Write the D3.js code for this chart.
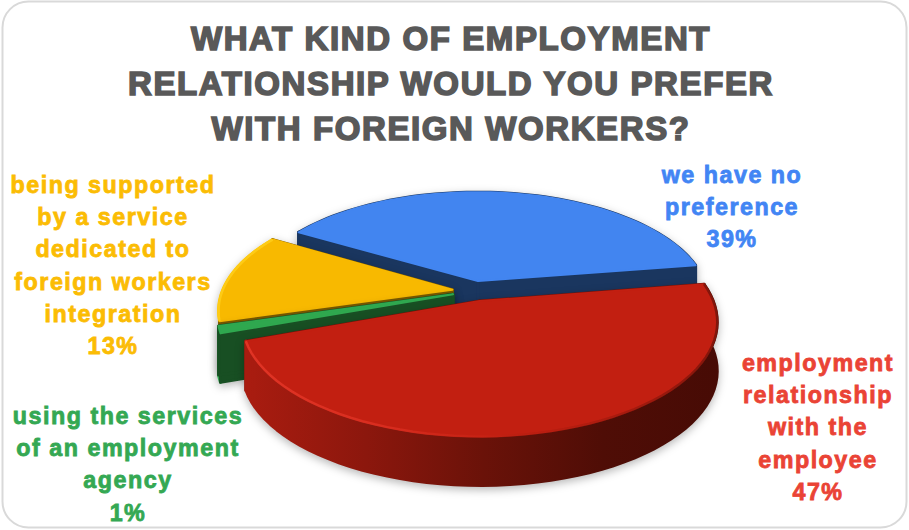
<!DOCTYPE html>
<html><head><meta charset="utf-8">
<script src="https://cdnjs.cloudflare.com/ajax/libs/d3/7.8.5/d3.min.js"></script>
<style>html,body{margin:0;padding:0;background:#fff}svg{display:block}text{font-family:"Liberation Sans",Arial,sans-serif;font-weight:700}</style>
</head><body><svg id="c" width="909" height="530"></svg>
<script>
const categories=["employment relationship with the employee","using the services of an employment agency","being supported by a service dedicated to foreign workers integration","we have no preference"];
const values=[47,1,13,39];
const titleLines=["WHAT KIND OF EMPLOYMENT","RELATIONSHIP WOULD YOU PREFER","WITH FOREIGN WORKERS?"];
const labelLines=[["employment","relationship","with the","employee","47%"],["using the services","of an employment","agency","1%"],["being supported","by a service","dedicated to","foreign workers","integration","13%"],["we have no","preference","39%"]];
const labelX=[818,128,113,732], labelY=[371,424,193,183];
const topColors=["#c21f11","#2fa84f","#f8b900","#4285f0"];
const faceColors=["#6d1208","#184f23","#7a5a00","#1a365f"];
const labelColors=["#ea4335","#34a853","#fbbc04","#4285f4"];
const drawOrder=[3,2,1,0];

const svg=d3.select("#c"),W=909,H=530;
svg.append("rect").attr("x",2.5).attr("y",1.5).attr("width",W-5).attr("height",H-4).attr("rx",26)
  .attr("fill","#fff").attr("stroke","#d9d9d9").attr("stroke-width",2);

const cx=474,cy=291,R=230,Ry=107.7,persp=0.175,depth=49,explode=0.095;
const xs=d3.scaleLinear().domain([-1,1]).range([cx-R,cx+R]);
const ys=d3.scaleLinear().domain([-1,1]).range([cy-Ry,cy+Ry]);
const proj=(wx,wy,z)=>{const s=1/(1-persp*wy);return [xs(wx*s),ys(wy*s)+z*depth];};
const pie=d3.pie().sort(null).startAngle(81*Math.PI/180).endAngle((81+360)*Math.PI/180);
const arcs=pie(values);
const line=d3.line();

const defs=svg.append("defs");
function grad(id,stops,x1,x2){const g=defs.append("linearGradient").attr("id",id).attr("gradientUnits","userSpaceOnUse").attr("x1",x1).attr("x2",x2).attr("y1",0).attr("y2",0);
  stops.forEach(s=>g.append("stop").attr("offset",s[0]).attr("stop-color",s[1]).attr("stop-opacity",s[2]===undefined?1:s[2]));return `url(#${id})`;}
const rimFills=[grad("rimR",[[0,"#a91c10"],[.25,"#8c170d"],[.5,"#6a1209"],[.75,"#4f0d06"],[1,"#470b05"]],247,721),"#2fa84f","#ffc800","#1a365f"];
const bevel=[grad("bevR",[[0,"#e8392a"],[.3,"#de3022"],[.5,"#cc2618",.6],[.62,"#a01a0e",.3],[1,"#5a0f07",.8]],247,721),"none","#ffcf1a","none"];

drawOrder.forEach(i=>{
  const a=arcs[i],s0=a.startAngle-Math.PI/2,s1=a.endAngle-Math.PI/2,mid=(s0+s1)/2;
  const ox=explode*Math.cos(mid),oy=explode*Math.sin(mid);
  const pt=(t,z)=>proj(ox+Math.cos(t),oy+Math.sin(t),z);
  const apex=z=>proj(ox,oy,z);
  const ts=d3.range(0,61).map(k=>s0+(s1-s0)*k/60);
  const g=svg.append("g").style("filter","drop-shadow(0px 3px 4px rgba(0,0,0,.28))");
  const drawRim=()=>{
    const rim=ts.map(t=>pt(t,0)).concat(ts.slice().reverse().map(t=>pt(t,1)));
    g.append("path").attr("d",line(rim)+"Z").attr("fill",rimFills[i]).attr("stroke",rimFills[i]).attr("stroke-linejoin","round").attr("stroke-width",3);
  };
  const drawFaces=()=>[s0,s1].forEach(t=>{
    const q=[apex(0),pt(t,0),pt(t,1),apex(1)];
    g.append("path").attr("d",line(q)+"Z").attr("fill",faceColors[i]).attr("stroke",faceColors[i]).attr("stroke-linejoin","round").attr("stroke-width",3);
  });
  if(i===0){drawFaces();drawRim();}else{drawRim();drawFaces();}
  const top=[apex(0)].concat(ts.map(t=>pt(t,0)));
  g.append("path").attr("d",line(top)+"Z").attr("fill",topColors[i]).attr("stroke",topColors[i]).attr("stroke-linejoin","round").attr("stroke-width",2);
  if(bevel[i]!=="none") g.append("path").attr("d",line(ts.map(t=>pt(t,0)))).attr("fill","none").attr("stroke",bevel[i]).attr("stroke-width",2.5).attr("stroke-opacity",.8);
});

svg.append("g").selectAll("text").data(titleLines).join("text")
  .attr("x",451).attr("y",(d,i)=>50+i*45).attr("text-anchor","middle")
  .attr("font-size",33).attr("letter-spacing",1.6).attr("fill","#595959").attr("stroke","#595959").attr("stroke-width",1.6).text(d=>d);

labelLines.forEach((lines,i)=>{
  svg.append("g").selectAll("text").data(lines).join("text")
    .attr("x",labelX[i]).attr("y",(d,k)=>labelY[i]+k*32.2).attr("text-anchor","middle")
    .attr("font-size",23.3).attr("letter-spacing",1.5).attr("fill",labelColors[i]).attr("stroke",labelColors[i]).attr("stroke-width",.8).text(d=>d);
});
</script></body></html>
